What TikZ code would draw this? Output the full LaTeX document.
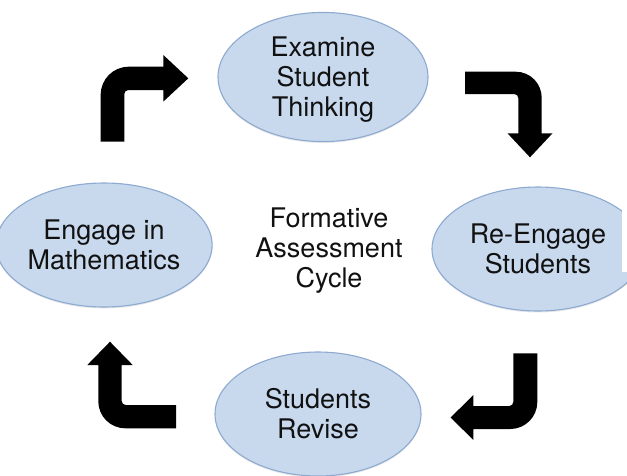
\documentclass[tikz,border=0pt]{standalone}
\usepackage{fontspec}
\setmainfont{TeX Gyre Heros}
\usetikzlibrary{shapes.geometric,shadows}
\definecolor{ellfill}{HTML}{C8D9EE}
\definecolor{elldraw}{HTML}{8EAAD0}
\definecolor{txt}{HTML}{111111}
\newcommand\topst{\rule{0pt}{25.3pt}}
\newcommand\botst{\rule[-6pt]{0pt}{6pt}}
\tikzset{
  stage/.style={ellipse, fill=ellfill, draw=elldraw, line width=1.1pt, inner sep=0pt,
    align=center, text=txt, font=\fontsize{27}{30}\selectfont,
    drop shadow={shadow xshift=0pt, shadow yshift=-1.5pt, opacity=0.18}},
  centretext/.style={align=center, text=txt, font=\fontsize{27}{30}\selectfont, inner sep=0pt},
  bentarrow/.style={fill=black}
}
\begin{document}
\begin{tikzpicture}[x=1pt,y=-1pt]
\useasboundingbox (0,0) rectangle (627,475);
\fill[white] (0,0) rectangle (627,475);
\clip (0,0) rectangle (627,475);

\node[stage, minimum width=210pt, minimum height=123pt] (examine) at (323,77) {\topst Examine\\Student\\Thinking\botst};
\node[stage, minimum width=201pt, minimum height=124pt] (engage) at (104,245) {\topst Engage in\\Mathematics\botst};
\node[stage, minimum width=212pt, minimum height=124pt] (reengage) at (538,249) {\topst Re-Engage\\Students\botst};
\node[stage, minimum width=206pt, minimum height=124pt] (revise) at (318,414) {\topst Students\\Revise\botst};
\node[centretext] (cycle) at (329,247.5) {\topst Formative\\Assessment\\Cycle\botst};

% white strip at right edge
\fill[white] (622,180) rectangle (628,272);

% top-left bent arrow (up, then right)
\fill[bentarrow] (100.7,141.7) -- (100.7,94.7)
  .. controls (100.7,79.2) and (113.2,66.7) .. (128.7,66.7)
  -- (163.3,66.7) -- (163.3,55) -- (188.3,78.3) -- (163.3,101.6) -- (163.3,90)
  -- (128.3,90) .. controls (126.1,90) and (124.3,91.8) .. (124.3,94)
  -- (124.3,141.7) -- cycle;

% top-right bent arrow (right, then down)
\fill[bentarrow] (465,71.7) -- (515.7,71.7)
  .. controls (530.1,71.7) and (541.7,83.3) .. (541.7,97.7)
  -- (541.7,133.3) -- (552.5,133.3) -- (530,157.3) -- (507.5,133.3) -- (518.3,133.3)
  -- (518.3,98) .. controls (518.3,95.8) and (516.5,94) .. (514.3,94)
  -- (465,94) -- cycle;

% bottom-right bent arrow (down, then left)
\fill[bentarrow] (513.3,353.3) -- (537.3,353.3) -- (537.3,402)
  .. controls (537.3,416.9) and (525.2,429) .. (510.3,429)
  -- (473.3,429) -- (473.3,440) -- (450.7,417.5) -- (473.3,395) -- (473.3,406)
  -- (509.3,406) .. controls (511.5,406) and (513.3,404.2) .. (513.3,402) -- cycle;

% bottom-left bent arrow (left, then up)
\fill[bentarrow] (176,428.3) -- (125.3,428.3)
  .. controls (110.4,428.3) and (98.3,416.2) .. (98.3,401.3)
  -- (98.3,365) -- (87.3,365) -- (110,341.7) -- (132.7,365) -- (121.7,365)
  -- (121.7,401) .. controls (121.7,403.2) and (123.5,405) .. (125.7,405)
  -- (176,405) -- cycle;
\end{tikzpicture}
\end{document}
